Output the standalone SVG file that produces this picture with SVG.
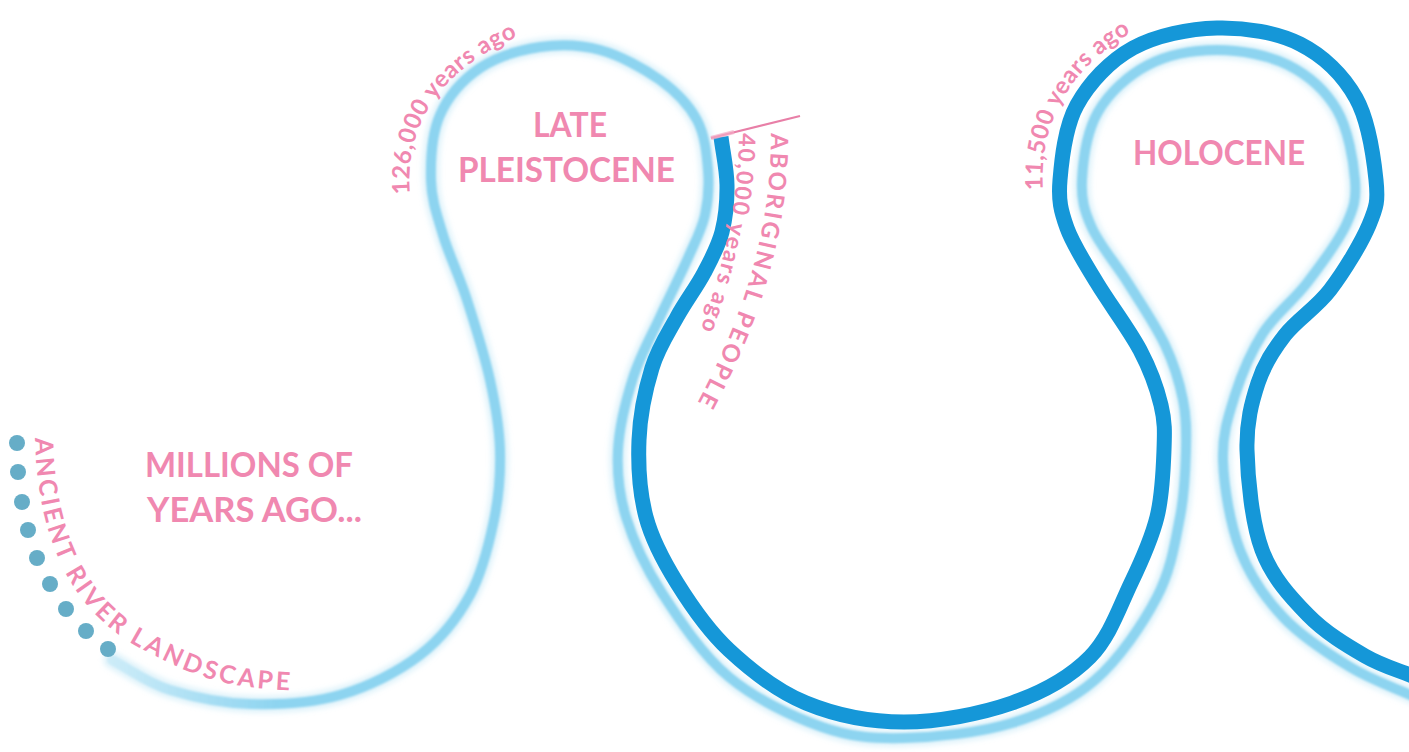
<svg xmlns="http://www.w3.org/2000/svg" width="1409" height="752" viewBox="0 0 1409 752">
<style>
.lbl{font-family:Lato,"Open Sans","Liberation Sans",sans-serif;font-weight:700;fill:#f088b0}
.big{font-size:35px}
.curv{font-size:24px;letter-spacing:0.6px}
.dot{fill:#66adc7}
.light{fill:none;stroke:#8dd4f0;stroke-width:10;stroke-linecap:round;stroke-linejoin:round}
.glow{fill:none;stroke:#9fdcf2;stroke-width:18;stroke-opacity:0.3;stroke-linecap:round}
.dark{fill:none;stroke:#1597d8;stroke-width:15;stroke-linecap:butt;stroke-linejoin:round}
</style>
<defs>
<filter id="soft" x="-5%" y="-5%" width="110%" height="110%"><feGaussianBlur stdDeviation="0.9"/></filter>
<filter id="softer" x="-5%" y="-5%" width="110%" height="110%"><feGaussianBlur stdDeviation="2.5"/></filter>
<linearGradient id="fade" gradientUnits="userSpaceOnUse" x1="110" y1="0" x2="280" y2="0">
<stop offset="0" stop-color="#8dd4f0" stop-opacity="0.25"/>
<stop offset="1" stop-color="#8dd4f0" stop-opacity="1"/>
</linearGradient>
<path id="tpAncient" d="M35,438 C37,520 60,605 140,648 S240,688 360,694"/>
<path id="tp126" d="M410,194 C404,120 445,60 545,26"/>
<path id="tp115" d="M1043,190 C1039,115 1075,60 1150,22"/>
<path id="tpAbor" d="M771,133 C771,230 745,320 685,425"/>
<path id="tp40k" d="M739,133 C738,200 725,270 692,352"/>
<path id="river" d="M112,660 C131,670 147,683 170,690 S221.7,703.2 250,704 S311.7,703.2 340,695 S398.3,671.7 420,655 S457.7,617.5 470,595 S489,544.2 494,520 S500.7,473.3 500,450 S495.5,405 490,380 S474.8,324.2 467,300 S449,255 443,235 S431.5,200 431,180 S431.8,133.7 440,115 S463.3,79.3 480,68 S520,50 540,47 S580,44.5 600,50 S643.8,68.3 660,80 S689,105 697,120 S706.7,154.2 708,170 S708.3,200.3 705,215 S695.5,241 688,258 S669.2,297 660,317 S640,355.8 633,378 S619.2,426.8 618,450 S618.7,493.2 626,517 S644.8,566.3 662,593 S702.3,654.7 729,677 S792.8,716.8 822,727 S872.3,738.7 904,738 S980.2,732.7 1012,723 S1070.8,701 1095,680 S1142.8,624.2 1157,597 S1175.2,541.5 1180,517 S1185.5,469.5 1186,450 S1186.5,417.5 1183,400 S1174.2,364.5 1165,345 S1140.2,302.5 1128,283 S1099.7,245.2 1092,228 S1081,199.3 1082,180 S1087,131.2 1098,112 S1128.2,75.3 1148,65 S1193.7,50 1217,50 S1268,55 1288,65 S1325.8,90.8 1337,110 S1353.5,160.8 1355,180 S1354,207.8 1346,225 S1320.8,265 1307,283 S1275,314.3 1263,333 S1241.7,373.8 1235,395 S1222.2,434.2 1223,460 S1230,523.8 1240,550 S1264.7,597.5 1283,617 S1328,653.7 1350,667 S1393.3,687 1415,697"/>
</defs>
<rect width="1409" height="752" fill="#ffffff"/>

<g id="rivers">
<use href="#river" class="glow" filter="url(#softer)"/>
<use href="#river" class="light" style="stroke:url(#fade)" filter="url(#soft)"/>
<path id="dark-river" class="dark" d="M721,137 C723,153 726.8,169.2 727,185 S725.8,217.3 722,232 S711.5,258.8 704,273 S685.7,301.2 677,317 S658.3,347.5 652,368 S640,415.2 639,440 S639.7,493.2 646,517 S663.2,560.8 677,583 S707.5,630 729,650 S776.8,691 806,703 S869.7,722 904,722 S981,713.8 1012,703 S1070.2,677 1090,657 S1119.8,606.3 1131,583 S1151.5,539.2 1157,517 S1163.3,468.7 1164,450 S1165,421.7 1161,405 S1150.7,370.3 1140,350 S1109.2,303.3 1097,283 S1073.2,245.2 1067,228 S1058.3,200.5 1060,180 S1064.8,127 1077,105 S1109.7,60.8 1133,48 S1189.2,28.7 1217,28 S1276.8,32.3 1300,44 S1343.3,75.3 1356,98 S1373.8,158.8 1376,180 S1376.7,206.7 1369,225 S1344,271.7 1330,290 S1297,319.5 1285,335 S1264.3,363.8 1258,383 S1246.3,422.2 1247,450 S1251.8,522.5 1262,550 S1290.8,597.3 1308,615 S1347.2,645.7 1365,656 S1398.3,670 1415,677"/>
</g>

<g id="marker-aboriginal">
<path d="M711,138 L800,116" fill="none" stroke="#e87fa7" stroke-width="2"/>
<path d="M711,138 L734,132" fill="none" stroke="#f3a9c4" stroke-width="4" stroke-opacity="0.7"/>
</g>

<g id="dots">
<circle class="dot" cx="17" cy="443" r="8"/>
<circle class="dot" cx="18" cy="472" r="8"/>
<circle class="dot" cx="22" cy="502" r="8"/>
<circle class="dot" cx="28" cy="530" r="8"/>
<circle class="dot" cx="37" cy="558" r="8"/>
<circle class="dot" cx="50" cy="584" r="8"/>
<circle class="dot" cx="66" cy="609" r="8"/>
<circle class="dot" cx="86" cy="631" r="8"/>
<circle class="dot" cx="108" cy="649" r="8"/>
</g>

<g id="label-ancient">
<text class="lbl" font-size="25" letter-spacing="3"><textPath href="#tpAncient">ANCIENT RIVER LANDSCAPE</textPath></text>
</g>
<g id="label-millions">
<text class="lbl big" x="145" y="477" textLength="208" lengthAdjust="spacingAndGlyphs">MILLIONS OF</text>
<text class="lbl big" x="147" y="522" textLength="215" lengthAdjust="spacingAndGlyphs">YEARS AGO...</text>
</g>
<g id="label-pleistocene">
<text class="lbl big" x="533" y="137" textLength="74" lengthAdjust="spacingAndGlyphs">LATE</text>
<text class="lbl big" x="458" y="182" textLength="217" lengthAdjust="spacingAndGlyphs">PLEISTOCENE</text>
<text class="lbl curv"><textPath href="#tp126">126,000 years ago</textPath></text>
</g>
<g id="label-aboriginal">
<text class="lbl" font-size="24" letter-spacing="2.6"><textPath href="#tpAbor">ABORIGINAL PEOPLE</textPath></text>
<text class="lbl" font-size="23" letter-spacing="1.8"><textPath href="#tp40k">40,000 years ago</textPath></text>
</g>
<g id="label-holocene">
<text class="lbl big" x="1133" y="165" textLength="172" lengthAdjust="spacingAndGlyphs">HOLOCENE</text>
<text class="lbl curv"><textPath href="#tp115">11,500 years ago</textPath></text>
</g>
</svg>
